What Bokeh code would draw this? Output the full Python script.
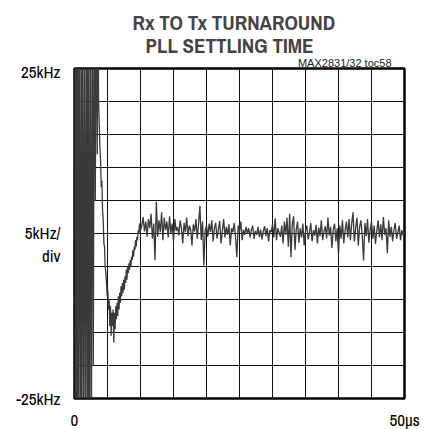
from bokeh.plotting import figure
from bokeh.models import (Range1d, Grid, FixedTicker, LinearAxis, Title,
                          ColumnDataSource)
from bokeh.embed import file_html
from bokeh.resources import INLINE

# ---- data ----
title_lines = ["Rx TO Tx TURNAROUND", "PLL SETTLING TIME"]
note_text = "MAX2831/32 toc58"
y_label_pos = [24.55, 0.15, -3.33, -25]
y_label_txt = ["25kHz", "5kHz/", "div", "-25kHz"]
x_label_pos = [0, 50]
x_label_txt = ["0", "50\u00b5s"]
x_grid_ticks = [0, 5, 10, 15, 20, 25, 30, 35, 40, 45, 50]
y_grid_ticks = [-25, -20, -15, -10, -5, 0, 5, 10, 15, 20, 25]

# time in microseconds
time_us = [
    0.0, 0.08, 0.2, 0.3, 0.45, 0.55, 0.7, 0.85, 1.0, 1.1, 1.25, 1.4, 1.55, 1.7, 1.85,
    2.0, 2.1, 2.25, 2.4, 2.55, 2.7, 2.85, 3.0, 3.15, 3.3, 3.45, 3.55,
    3.65, 3.75, 3.85, 3.95, 4.05, 4.15, 4.25, 4.35, 4.45, 4.55, 4.65, 4.75, 4.85, 4.95,
    5.05, 5.15, 5.25, 5.35, 5.45, 5.55, 5.65, 5.75, 5.85, 5.95,
    6.05, 6.15, 6.25, 6.35, 6.45, 6.55, 6.65, 6.75, 6.85, 6.95,
    7.05, 7.15, 7.25, 7.35, 7.45, 7.55, 7.65, 7.75, 7.85, 7.95,
    8.05, 8.15, 8.25, 8.35, 8.45, 8.55, 8.65, 8.75, 8.85, 8.95,
    9.05, 9.15, 9.25, 9.35, 9.45, 9.55, 9.65, 9.75, 9.85, 9.95,
    10.2, 10.4, 10.6, 10.8, 11.0, 11.2, 11.4, 11.6, 11.8, 12.0,
    12.2, 12.4, 12.6, 12.8, 13.0, 13.2, 13.4, 13.6, 13.8, 14.0,
    14.2, 14.4, 14.6, 14.8, 15.0, 15.2, 15.4, 15.6, 15.8, 16.0,
    16.2, 16.4, 16.6, 16.8, 17.0, 17.2, 17.4, 17.6, 17.8, 18.0,
    18.2, 18.4, 18.6, 18.8, 19.0, 19.2, 19.4, 19.6, 19.8, 20.0,
    20.2, 20.4, 20.6, 20.8, 21.0, 21.2, 21.4, 21.6, 21.8, 22.0,
    22.2, 22.4, 22.6, 22.8, 23.0, 23.2, 23.4, 23.6, 23.8, 24.0,
    24.2, 24.4, 24.6, 24.8, 25.0, 25.2, 25.4, 25.6, 25.8, 26.0,
    26.2, 26.4, 26.6, 26.8, 27.0, 27.2, 27.4, 27.6, 27.8, 28.0,
    28.2, 28.4, 28.6, 28.8, 29.0, 29.2, 29.4, 29.6, 29.8, 30.0,
    30.2, 30.4, 30.6, 30.8, 31.0, 31.2, 31.4, 31.6, 31.8, 32.0,
    32.2, 32.4, 32.6, 32.8, 33.0, 33.2, 33.4, 33.6, 33.8, 34.0,
    34.2, 34.4, 34.6, 34.8, 35.0, 35.2, 35.4, 35.6, 35.8, 36.0,
    36.2, 36.4, 36.6, 36.8, 37.0, 37.2, 37.4, 37.6, 37.8, 38.0,
    38.2, 38.4, 38.6, 38.8, 39.0, 39.2, 39.4, 39.6, 39.8, 40.0,
    40.2, 40.4, 40.6, 40.8, 41.0, 41.2, 41.4, 41.6, 41.8, 42.0,
    42.2, 42.4, 42.6, 42.8, 43.0, 43.2, 43.4, 43.6, 43.8, 44.0,
    44.2, 44.4, 44.6, 44.8, 45.0, 45.2, 45.4, 45.6, 45.8, 46.0,
    46.2, 46.4, 46.6, 46.8, 47.0, 47.2, 47.4, 47.6, 47.8, 48.0,
    48.2, 48.4, 48.6, 48.8, 49.0, 49.2, 49.4, 49.6, 49.8, 50.0,
]

# frequency error in kHz
freq_khz = [
    40, -40, 40, -40, 40, -40, 40, -40, 40, -40, 40, -40, 40, -40, 40,
    -40, 40, -40, 40, -40, 40, -20, 40, 5, 38, 12, 40,
    20, 16.5, 13, 11, 7, 8, 3.5, 2, -1.5, -2, -5, -6, -7.5, -9.5,
    -8.5, -11.5, -10, -14, -11, -15.5, -12, -14, -11.5, -16.5,
    -12, -14.5, -11, -13, -10.5, -12.5, -9.5, -11.5, -9, -10.5,
    -8, -9.5, -7.5, -9, -7, -8.5, -6.5, -7.5, -5.5, -7,
    -5, -6, -4.5, -5.5, -4, -5, -3.5, -4, -2.5, -3.5,
    -2, -2.5, -1, -2, -0.5, -1, 0.5, 0, 1.5, 0.3,
    1.2, 2.5, 0.3, 1.8, -0.5, 2.2, 0.8, 3.0, -0.8, 1.5,
    -4.0, 4.8, -0.5, 2.0, 0.2, 3.2, -1.0, 2.4, 0.5, 1.8,
    -0.6, 2.6, 0.0, 1.5, -1.2, 2.2, 0.4, 1.0, -0.3, 2.0,
    0.8, -1.5, 1.6, 0.2, 2.4, -0.4, 1.2, 0.6, -1.8, 1.4,
    0.3, 2.2, -0.8, 1.5, 4.2, -1.0, 1.8, -4.8, 0.5, 1.2,
    -0.5, 1.5, 0.2, 2.0, -1.2, 0.8, 1.6, -0.8, 0.6, 1.9,
    -1.5, 0.4, 2.2, -0.6, 1.0, -0.2, 1.4, -1.8, 0.8, 0.2,
    1.6, -0.5, -3.6, 1.2, 0.3, 1.8, -1.0, 0.6, -0.2, 1.0,
    0.0, 0.8, -0.6, 0.5, 1.2, -0.8, 0.4, -0.2, 1.0, -0.5,
    0.6, -0.9, 0.3, 1.1, -0.4, 0.8, -1.2, 0.5, 0.2, 1.4,
    -0.6, 2.3, -1.0, 0.8, 0.2, -0.5, 1.2, -1.5, 1.8, -0.2,
    2.4, -2.0, 3.0, -3.6, 1.5, 2.6, -2.5, 0.6, 1.8, -1.4,
    0.8, -0.6, 1.5, -1.8, 0.4, 1.2, -0.9, 0.2, 1.6, -1.2,
    0.5, -0.3, 1.3, -1.5, 0.9, -0.4, 2.0, -1.0, 0.3, 1.1,
    -0.8, 2.4, -0.3, 1.0, -2.2, 0.6, 1.5, -1.2, 0.8, -3.3,
    1.2, -0.8, 2.0, -1.5, 0.5, 1.8, -0.6, 2.2, -1.0, 1.5,
    3.2, -1.2, 0.8, 2.4, -1.8, 1.0, 2.0, -0.5, -4.1, 1.6,
    -0.4, 2.2, -1.4, 0.6, 1.8, -0.8, 1.2, -1.6, 0.4, 2.0,
    -0.6, 1.4, -1.0, 2.5, -0.2, 0.8, -3.0, 2.0, -0.5, 1.0,
    -1.2, 0.6, 1.6, -0.8, 0.2, 1.2, -1.0, 0.5, -0.3, 0.2,
]

FONT = "Archivo Narrow"
NOTE_FONT = "Liberation Sans"

p = figure(
    frame_width=330, frame_height=330,
    output_backend="svg", toolbar_location=None,
    x_range=Range1d(0, 50), y_range=Range1d(-25, 25),
    x_axis_location=None, y_axis_location=None,
    min_border_left=74, min_border_right=28,
    min_border_top=68, min_border_bottom=31,
)
p.background_fill_color = "white"
p.border_fill_color = "white"
p.outline_line_color = "black"
p.outline_line_width = 2.5

for dim, ticks in ((0, x_grid_ticks), (1, y_grid_ticks)):
    g = Grid(dimension=dim, ticker=FixedTicker(ticks=ticks),
             grid_line_color="#111111", grid_line_width=1, grid_line_alpha=1.0)
    p.add_layout(g)

src = ColumnDataSource(data=dict(t=time_us, f=freq_khz))
p.line("t", "f", source=src, line_color="#3a3a3a", line_width=1.3)

def style_axis(ax, standoff):
    ax.axis_line_color = None
    ax.major_tick_line_color = None
    ax.minor_tick_line_color = None
    ax.major_tick_out = 0
    ax.major_tick_in = 0
    ax.major_label_standoff = standoff
    ax.major_label_text_font = FONT
    ax.major_label_text_font_size = "17px"
    ax.major_label_text_color = "black"

yax = LinearAxis(ticker=FixedTicker(ticks=y_label_pos),
                 major_label_overrides=dict(zip(y_label_pos, y_label_txt)))
style_axis(yax, 14)
p.add_layout(yax, "left")

xax = LinearAxis(ticker=FixedTicker(ticks=x_label_pos),
                 major_label_overrides=dict(zip(x_label_pos, x_label_txt)))
style_axis(xax, 9)
p.add_layout(xax, "below")

# titles: first added sits closest to the plot
t_note = Title(text=note_text, align="right", offset=13, standoff=-1,
               text_font=NOTE_FONT, text_font_size="11px", text_font_style="normal",
               text_color="#222222")
t2 = Title(text=title_lines[1], align="left", offset=71, standoff=-8,
           text_font=FONT, text_font_size="21px", text_font_style="bold")
t1 = Title(text=title_lines[0], align="left", offset=58, standoff=-8,
           text_font=FONT, text_font_size="21px", text_font_style="bold")
p.add_layout(t_note, "above")
p.add_layout(t2, "above")
p.add_layout(t1, "above")

open("out.html", "w").write(file_html(p, INLINE))
